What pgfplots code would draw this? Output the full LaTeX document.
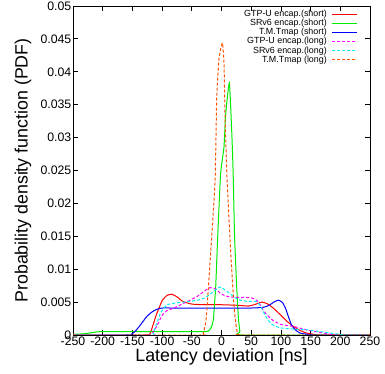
\documentclass[border=0pt]{standalone}
\usepackage{fontspec}
\setmainfont{Liberation Sans}
\usepackage{pgfplots}
\pgfplotsset{compat=1.18}
\definecolor{cred}{RGB}{255,0,0}
\definecolor{cgreen}{RGB}{0,235,0}
\definecolor{cblue}{RGB}{0,0,255}
\definecolor{cmag}{RGB}{255,0,255}
\definecolor{ccyan}{RGB}{0,240,240}
\definecolor{corange}{RGB}{255,80,0}
\begin{document}
\begin{tikzpicture}
\begin{axis}[
  scale only axis, width=297pt, height=329pt,
  xmin=-250, xmax=250, ymin=0, ymax=0.05,
  xtick={-250,-200,-150,-100,-50,0,50,100,150,200,250},
  xticklabels={-250,-200,-150,-100,-50,0,50,100,150,200,250},
  ytick={0,0.005,0.01,0.015,0.02,0.025,0.03,0.035,0.04,0.045,0.05},
  yticklabels={0,0.005,0.01,0.015,0.02,0.025,0.03,0.035,0.04,0.045,0.05},
  tick align=inside, major tick length=5pt,
  xtick pos=both, ytick pos=both,
  axis line style={line width=0.9pt},
  tick style={line width=0.8pt, black},
  ticklabel style={font=\fontsize{12.3}{12.3}\selectfont, inner sep=1.5pt},
  every axis x label/.style={at={(axis description cs:0.5,-0.067)}, anchor=center, font=\fontsize{17.8}{17.8}\selectfont},
  every axis y label/.style={at={(axis description cs:-0.168,0.5)}, anchor=center, rotate=90, font=\fontsize{17.8}{17.8}\selectfont},
  xlabel={Latency deviation [ns]},
  ylabel={Probability density function (PDF)},
  legend style={at={(axis description cs:0.9596,0.9886)}, anchor=north east, draw=none, fill=none, inner sep=0pt,
    nodes={inner sep=0.5pt, text height=6.2pt, text depth=1.9pt, font=\fontsize{8.9}{8.9}\selectfont},
    /tikz/column sep=4.5pt, row sep=0pt},
  legend cell align=right,
  legend plot pos=right,
  legend image code/.code={\draw[#1] (0pt,0pt) -- (25pt,0pt);},
  every axis plot/.append style={line width=1pt, smooth, tension=0.3},
]
% GTP-U encap. (short)
\addplot[cred] coordinates {(-250,0) (-130,0) (-120,0.0003) (-110,0.003) (-100,0.0052) (-92,0.006) (-84,0.0062) (-75,0.0058) (-65,0.0051) (-50,0.0047) (-30,0.0046) (0,0.0046) (30,0.0045) (45,0.0044) (55,0.0046) (68,0.005) (78,0.0047) (87,0.0041) (100,0.003) (110,0.0021) (121,0.0013) (132,0.0007) (143,0.0003) (155,0.0001) (165,0) (250,0)};
\addlegendentry{GTP-U encap.(short)}
% SRv6 encap. (short)
\addplot[cgreen] coordinates {(-250,0.0001) (-230,0.0002) (-215,0.0004) (-205,0.0005) (-150,0.0005) (-100,0.0005) (-50,0.0005) (-30,0.0005) (-22,0.0006) (-17,0.0012) (-13.8,0.0023) (-9.8,0.0073) (-6.4,0.0149) (-1.5,0.0245) (4.2,0.0286) (7,0.0335) (13.2,0.0383) (17.2,0.031) (19.5,0.025) (22,0.015) (25.6,0.0073) (28.3,0.0028) (31,0.0005) (35,0) (250,0)};
\addlegendentry{SRv6 encap.(short)}
% T.M.Tmap (short)
\addplot[cblue] coordinates {(-250,0) (-160,0) (-150,0.0002) (-143,0.0008) (-135,0.0017) (-126,0.0028) (-117,0.0035) (-109,0.0039) (-100,0.0041) (-80,0.0041) (0,0.0041) (50,0.0041) (70,0.0042) (80,0.0045) (88,0.005) (96,0.0053) (103,0.0049) (108,0.004) (113,0.0027) (118,0.0015) (124,0.0008) (132,0.0003) (145,0.0001) (155,0) (250,0)};
\addlegendentry{T.M.Tmap (short)}
% GTP-U encap. (long)
\addplot[cmag, dash pattern=on 3pt off 2pt] coordinates {(-250,0) (-125,0) (-115,0.0005) (-108,0.0015) (-100,0.003) (-92,0.0037) (-80,0.0041) (-64,0.0048) (-42,0.0058) (-30,0.0066) (-19,0.0072) (-10,0.007) (-2.5,0.0064) (5,0.006) (14,0.0058) (30,0.0057) (42,0.0057) (52,0.0056) (59,0.0053) (65,0.0046) (70,0.0038) (76,0.0031) (87,0.0022) (100,0.0016) (121,0.0013) (143,0.0008) (160,0.0005) (171,0.0003) (185,0.0001) (195,0) (250,0)};
\addlegendentry{GTP-U encap.(long)}
% SRv6 encap. (long)
\addplot[ccyan, dash pattern=on 3pt off 2pt] coordinates {(-250,0) (-120,0) (-115,0.0003) (-110,0.0015) (-103,0.0033) (-96,0.0042) (-92,0.0046) (-75,0.0049) (-53,0.0051) (-35,0.0054) (-25,0.0058) (-12,0.0067) (-2.5,0.0073) (5,0.0069) (14,0.0063) (22,0.0057) (31,0.0053) (45,0.0051) (59,0.0051) (65,0.0045) (70,0.0036) (76,0.0026) (85,0.0016) (98,0.0011) (120,0.0009) (143,0.0008) (160,0.0006) (183,0.0003) (200,0.0001) (210,0) (250,0)};
\addlegendentry{SRv6 encap.(long)}
% T.M.Tmap (long)
\addplot[corange, dash pattern=on 3pt off 2pt] coordinates {(-250,0) (-35,0) (-31,0.0001) (-26,0.0023) (-22,0.0073) (-16.5,0.0149) (-11,0.023) (-9.5,0.029) (-8,0.0362) (-4.2,0.042) (1.4,0.0444) (4.2,0.0413) (5.9,0.0337) (8.8,0.025) (12.6,0.0175) (17.2,0.0099) (21.6,0.0038) (25.6,0.0008) (28,0.0001) (32,0) (250,0)};
\addlegendentry{T.M.Tmap (long)}
\end{axis}
\pgfresetboundingbox
\useasboundingbox (-73pt,-39pt) rectangle (312pt,335pt);
\end{tikzpicture}
\end{document}
